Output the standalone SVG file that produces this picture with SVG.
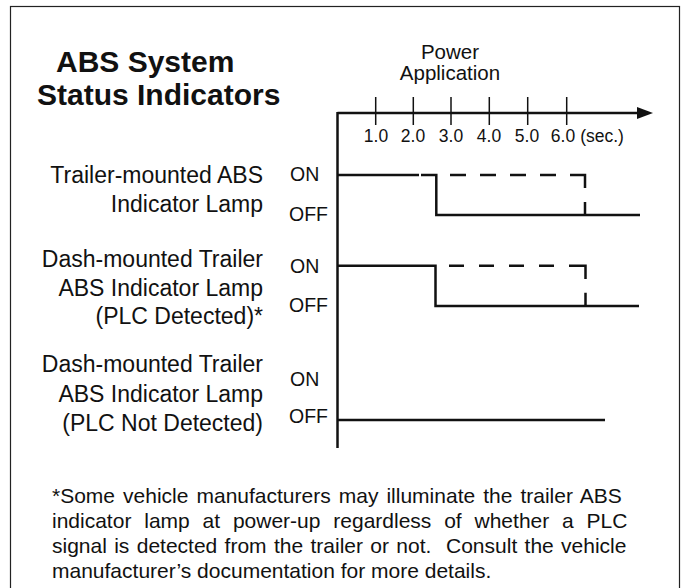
<svg xmlns="http://www.w3.org/2000/svg" width="681" height="588" viewBox="0 0 681 588">
<style>
text{font-family:"Liberation Sans",Arial,sans-serif;fill:#111}
.lbl{font-size:23px;text-anchor:end}
.st{font-size:19.5px}
.pw{font-size:20.5px;text-anchor:middle}
.tk{font-size:17.5px;text-anchor:middle}
.ttl{font-size:30px;font-weight:bold}
.fn{font-size:21px}
.ln{stroke:#111;stroke-width:2.5;fill:none}
.tick{stroke:#111;stroke-width:1.5}
</style>
<defs>
<marker id="arr" markerWidth="16" markerHeight="12" refX="0" refY="6" orient="auto" markerUnits="userSpaceOnUse">
<path d="M0,0 L16,6 L0,12 z" fill="#111"/>
</marker>
</defs>
<rect x="10.5" y="6.5" width="669" height="620" fill="#fff" stroke="#222" stroke-width="1.2"/>
<g id="title">
<text class="ttl" x="56" y="72">ABS System</text>
<text class="ttl" x="37" y="105">Status Indicators</text>
</g>
<g id="axis">
<text class="pw" x="450" y="59">Power</text>
<text class="pw" x="450" y="80">Application</text>
<line class="ln" x1="337.5" y1="113" x2="637" y2="113" marker-end="url(#arr)"/>
<line class="ln" x1="337.5" y1="112" x2="337.5" y2="448"/>
<g class="tick">
<line x1="375.7" y1="97" x2="375.7" y2="125"/>
<line x1="413.3" y1="97" x2="413.3" y2="125"/>
<line x1="451" y1="97" x2="451" y2="125"/>
<line x1="489.3" y1="97" x2="489.3" y2="125"/>
<line x1="527.7" y1="97" x2="527.7" y2="125"/>
<line x1="566.7" y1="97" x2="566.7" y2="125"/>
</g>
<text class="tk" x="376" y="142">1.0</text>
<text class="tk" x="413" y="142">2.0</text>
<text class="tk" x="451" y="142">3.0</text>
<text class="tk" x="489" y="142">4.0</text>
<text class="tk" x="527" y="142">5.0</text>
<text class="tk" x="563" y="142">6.0</text>
<text class="tk" x="602" y="142">(sec.)</text>
</g>
<g id="row1">
<text class="lbl" x="263" y="183">Trailer-mounted ABS</text>
<text class="lbl" x="263" y="212">Indicator Lamp</text>
<text class="st" x="290" y="181">ON</text>
<text class="st" x="289" y="221">OFF</text>
</g>
<g id="row2">
<text class="lbl" x="263" y="267">Dash-mounted Trailer</text>
<text class="lbl" x="263" y="296">ABS Indicator Lamp</text>
<text class="lbl" x="263" y="324">(PLC Detected)*</text>
<text class="st" x="290" y="273">ON</text>
<text class="st" x="289" y="312">OFF</text>
</g>
<g id="row3">
<text class="lbl" x="263" y="372">Dash-mounted Trailer</text>
<text class="lbl" x="263" y="402">ABS Indicator Lamp</text>
<text class="lbl" x="263" y="431">(PLC Not Detected)</text>
<text class="st" x="290" y="386">ON</text>
<text class="st" x="289" y="423">OFF</text>
</g>
<g id="connectors">
<polyline class="ln" points="337.5,175 419,175"/>
<polyline class="ln" points="421,175 436.3,175 436.3,215 640,215"/>
<path class="ln" d="M450,175H466M480,175H496M510,175H526M540,175H556M570,175H585V188M585,202V215"/>
<polyline class="ln" points="337.5,265.7 435.5,265.7 435.5,306 639,306"/>
<path class="ln" d="M449,265.7H464M479,265.7H494M509,265.7H524M539,265.7H554M569,265.7H585.5V279M585.5,292.7V306"/>
<line class="ln" x1="337.5" y1="420" x2="605" y2="420"/>
</g>
<g id="footnote">
<text class="fn" x="52" y="503" word-spacing="2.2">*Some vehicle manufacturers may illuminate the trailer ABS</text>
<text class="fn" x="52" y="528" word-spacing="7">indicator lamp at power-up regardless of whether a PLC</text>
<text class="fn" x="52" y="553" word-spacing="1.5" xml:space="preserve">signal is detected from the trailer or not.  Consult the vehicle</text>
<text class="fn" x="52" y="578">manufacturer’s documentation for more details.</text>
</g>
</svg>
